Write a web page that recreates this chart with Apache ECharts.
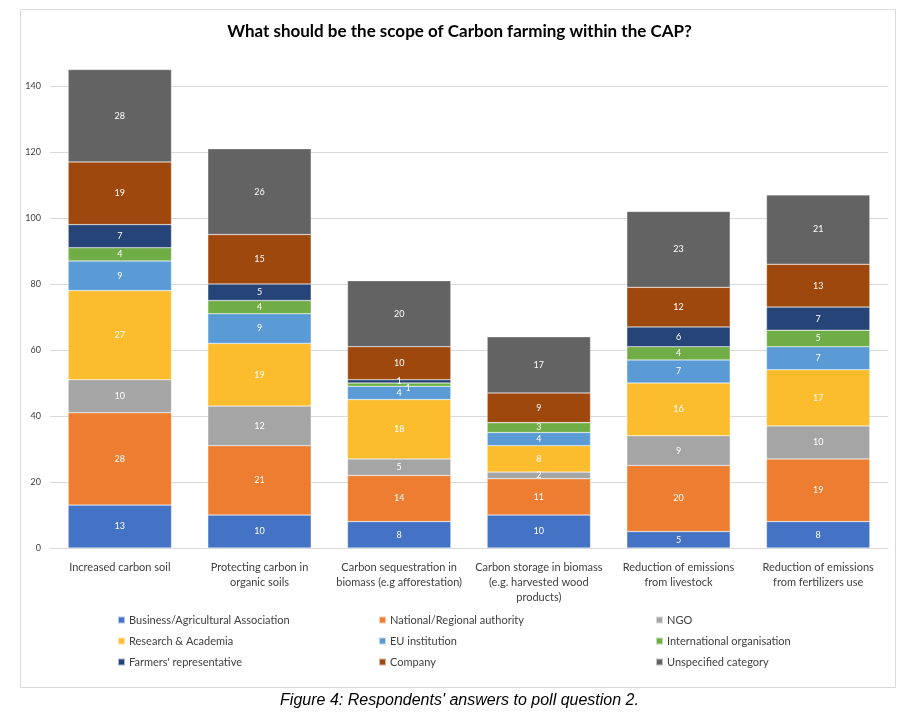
<!DOCTYPE html>
<html>
<head>
<meta charset="utf-8">
<script src="https://cdn.jsdelivr.net/npm/echarts@6/dist/echarts.min.js"></script>
<style>
  html, body { margin: 0; padding: 0; background: #fff; }
  #main { width: 919px; height: 712px; }
</style>
</head>
<body>
<div id="main"></div>
<script>
var categories = [
  "Increased carbon soil",
  "Protecting carbon in\norganic soils",
  "Carbon sequestration in\nbiomass (e.g afforestation)",
  "Carbon storage in biomass\n(e.g. harvested wood\nproducts)",
  "Reduction of emissions\nfrom livestock",
  "Reduction of emissions\nfrom fertilizers use"
];
var business = [13, 10, 8, 10, 5, 8];
var national = [28, 21, 14, 11, 20, 19];
var ngo = [10, 12, 5, 2, 9, 10];
var research = [27, 19, 18, 8, 16, 17];
var euInstitution = [9, 9, 4, 4, 7, 7];
var international = [4, 4, 1, 3, 4, 5];
var farmers = [7, 5, 1, 0, 6, 7];
var company = [19, 15, 10, 9, 12, 13];
var unspecified = [28, 26, 20, 17, 23, 21];

var seriesDefs = [
  { name: "Business/Agricultural Association", data: business, color: "#4472C4" },
  { name: "National/Regional authority", data: national, color: "#ED7D31" },
  { name: "NGO", data: ngo, color: "#A5A5A5" },
  { name: "Research & Academia", data: research, color: "#FBBC2D" },
  { name: "EU institution", data: euInstitution, color: "#5B9BD5" },
  { name: "International organisation", data: international, color: "#70AD47" },
  { name: "Farmers' representative", data: farmers, color: "#264478" },
  { name: "Company", data: company, color: "#9E480E" },
  { name: "Unspecified category", data: unspecified, color: "#636363" }
];

var font = "Lato, 'Open Sans', sans-serif";

var series = seriesDefs.map(function (s) {
  return {
    name: s.name,
    type: "bar",
    stack: "total",
    barWidth: "74%",
    data: s.data.map(function (v, i) {
      var item = { value: v };
      // the two 1-unit slices in the third bar overlap, shift one label
      if (s.name === "International organisation" && i === 2) {
        item.label = { offset: [9, 3] };
      }
      return item;
    }),
    itemStyle: { color: s.color, borderColor: "rgba(255,255,255,0.6)", borderWidth: 0.5 },
    label: {
      show: true,
      position: "inside",
      color: "#fff",
      fontSize: 9,
      fontFamily: font,
      formatter: function (p) { return p.value ? p.value : ""; }
    },
    emphasis: { disabled: true }
  };
});

function legendCol(names, left) {
  return {
    data: names,
    orient: "vertical",
    left: left,
    top: 609,
    itemWidth: 7,
    itemHeight: 7,
    itemGap: 9,
    icon: "rect",
    textStyle: { fontSize: 11, color: "#404040", fontFamily: font, padding: [0, 0, 0, -1], lineHeight: 12 }
  };
}

var chart = echarts.init(document.getElementById("main"));
chart.setOption({
  animation: false,
  backgroundColor: "#fff",
  title: {
    text: "What should be the scope of Carbon farming within the CAP?",
    left: "center",
    top: 18,
    textStyle: { fontSize: 17, fontWeight: "bold", color: "#000", fontFamily: font }
  },
  graphic: [
    {
      type: "rect",
      shape: { x: 20.5, y: 9.5, width: 875, height: 678 },
      style: { fill: null, stroke: "#d9d9d9", lineWidth: 1 },
      z: -1
    },
    {
      type: "text",
      left: "center",
      top: 693,
      style: {
        text: "Figure 4: Respondents' answers to poll question 2.",
        font: "italic 16px 'Liberation Sans', Arial, sans-serif",
        fill: "#000"
      }
    }
  ],
  legend: [
    legendCol([seriesDefs[0].name, seriesDefs[3].name, seriesDefs[6].name], 112),
    legendCol([seriesDefs[1].name, seriesDefs[4].name, seriesDefs[7].name], 373),
    legendCol([seriesDefs[2].name, seriesDefs[5].name, seriesDefs[8].name], 650)
  ],
  grid: { left: 50, right: 31, top: 53, bottom: 164, containLabel: false },
  xAxis: {
    type: "category",
    data: categories,
    axisLine: { lineStyle: { color: "#d9d9d9" } },
    axisTick: { show: false },
    axisLabel: { color: "#404040", fontSize: 11, fontFamily: font, lineHeight: 15, margin: 12, interval: 0 }
  },
  yAxis: {
    type: "value",
    min: 0,
    max: 150,
    interval: 20,
    axisLine: { show: false },
    axisTick: { show: false },
    axisLabel: { color: "#404040", fontSize: 9, fontFamily: font, showMaxLabel: false, margin: 9 },
    splitLine: { lineStyle: { color: "#d9d9d9" }, showMaxLine: false }
  },
  series: series
});
</script>
</body>
</html>
